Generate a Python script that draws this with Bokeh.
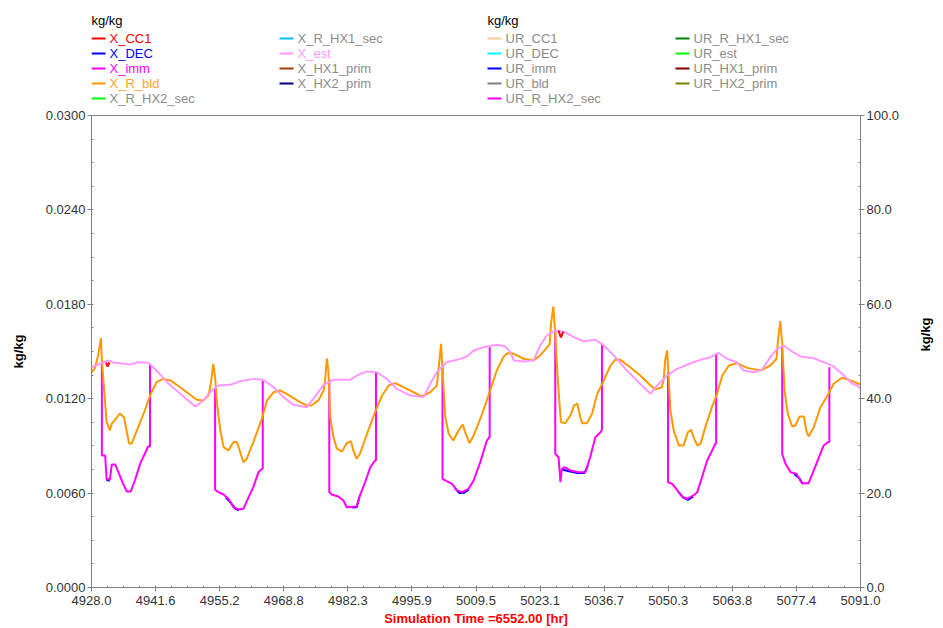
import math
import numpy as np
from bokeh.plotting import figure
from bokeh.models import Range1d, LinearAxis, FixedTicker
from bokeh.layouts import column
from bokeh.embed import file_html
from bokeh.resources import INLINE
from bokeh.core.properties import value

FONT = "Liberation Sans"
GRAY = "#808080"
LBL_GRAY = "#8c8c8c"

# ---------------- legend content ----------------
x_names = ["X_CC1", "X_DEC", "X_imm", "X_R_bld", "X_R_HX2_sec",
           "X_R_HX1_sec", "X_est", "X_HX1_prim", "X_HX2_prim"]
x_colors = ["#FF0000", "#0000FF", "#FF00FF", "#FF9900", "#00FF00",
            "#00BFFF", "#FF99FF", "#A0400A", "#000080"]
x_label_colors = ["#FF0000", "#0000FF", "#FF00FF", "#FFA526", LBL_GRAY,
                  LBL_GRAY, "#FF99FF", LBL_GRAY, LBL_GRAY]
ur_names = ["UR_CC1", "UR_DEC", "UR_imm", "UR_bld", "UR_R_HX2_sec",
            "UR_R_HX1_sec", "UR_est", "UR_HX1_prim", "UR_HX2_prim"]
ur_colors = ["#FFC8A0", "#00FFFF", "#0000FF", "#808080", "#FF00FF",
             "#008000", "#00FF00", "#800000", "#808000"]
ur_label_colors = [LBL_GRAY] * 9
unit_label = "kg/kg"
x_title = "Simulation Time =6552.00 [hr]"

# ---------------- axes ----------------
x_start, x_end = 4928.0, 5091.0
x_tick_labels = ["4928.0", "4941.6", "4955.2", "4968.8", "4982.3", "4995.9", "5009.5",
                 "5023.1", "5036.7", "5050.3", "5063.8", "5077.4", "5091.0"]
y_ticks = [0.0, 0.006, 0.012, 0.018, 0.024, 0.03]
y_tick_labels = ["0.0000", "0.0060", "0.0120", "0.0180", "0.0240", "0.0300"]
ur_ticks = [0, 20, 40, 60, 80, 100]
ur_tick_labels = ["0.0", "20.0", "40.0", "60.0", "80.0", "100.0"]

# ---------------- series ----------------
X_R_bld_t = [4928.0, 4928.7, 4929.4, 4930.0, 4930.2, 4930.7, 4931.2, 4931.9, 4932.3, 4933.2,
             4934.0, 4934.9, 4935.5, 4936.0, 4936.5, 4937.9, 4939.3, 4940.4, 4941.8, 4943.2,
             4944.7, 4946.8, 4950.3, 4951.7, 4952.8, 4953.3, 4953.8, 4954.2, 4954.6, 4955.3,
             4956.0, 4957.0, 4958.1, 4958.8, 4959.3, 4960.2, 4960.9, 4962.3, 4964.1, 4965.2,
             4966.6, 4968.0, 4969.4, 4972.2, 4973.6, 4974.6, 4976.1, 4977.2, 4977.5, 4977.9,
             4978.2, 4978.6, 4979.3, 4980.0, 4981.1, 4982.1, 4983.0, 4983.5, 4984.2, 4984.9,
             4986.4, 4988.1, 4989.6, 4991.0, 4992.4, 4994.1, 4996.3, 4998.0, 4999.8, 5001.2,
             5001.6, 5002.1, 5002.4, 5003.0, 5003.7, 5004.7, 5005.8, 5006.7, 5007.2, 5008.1,
             5009.0, 5010.8, 5012.5, 5013.9, 5015.3, 5016.1, 5017.5, 5019.6, 5021.7, 5023.1,
             5025.1, 5025.4, 5025.9, 5026.3, 5026.8, 5027.2, 5027.5, 5028.4, 5029.5, 5030.3,
             5031.0, 5031.6, 5032.0, 5033.0, 5034.1, 5035.2, 5036.6, 5038.0, 5039.0, 5040.1,
             5042.2, 5044.3, 5046.5, 5047.5, 5048.9, 5049.3, 5049.6, 5050.0, 5050.3, 5050.7,
             5051.4, 5052.5, 5053.5, 5054.4, 5055.1, 5055.6, 5056.4, 5057.1, 5058.1, 5059.5,
             5060.6, 5061.7, 5063.1, 5064.8, 5067.0, 5069.8, 5071.9, 5073.2, 5073.5, 5074.0,
             5074.4, 5074.9, 5075.6, 5076.5, 5077.2, 5078.1, 5079.0, 5079.5, 5080.0, 5081.1,
             5082.5, 5083.9, 5085.3, 5087.1, 5088.9, 5091.0]
X_R_bld_v = [0.01368, 0.01392, 0.01475, 0.01585, 0.01443, 0.01252, 0.01051, 0.00998, 0.01042, 0.01074,
             0.01106, 0.01082, 0.00985, 0.00913, 0.00915, 0.01019, 0.01125, 0.01220, 0.01305, 0.01326,
             0.01316, 0.01273, 0.01193, 0.01189, 0.01220, 0.01297, 0.01422, 0.01337, 0.01170, 0.00998,
             0.00892, 0.00871, 0.00924, 0.00924, 0.00882, 0.00796, 0.00818, 0.00924, 0.01072, 0.01189,
             0.01241, 0.01252, 0.01231, 0.01178, 0.01157, 0.01157, 0.01189, 0.01252, 0.01316, 0.01457,
             0.01379, 0.01082, 0.00955, 0.00882, 0.00864, 0.00917, 0.00930, 0.00871, 0.00818, 0.00850,
             0.00977, 0.01114, 0.01220, 0.01284, 0.01299, 0.01273, 0.01241, 0.01214, 0.01241, 0.01284,
             0.01400, 0.01549, 0.01379, 0.01082, 0.00977, 0.00934, 0.00998, 0.01036, 0.00987, 0.00917,
             0.00966, 0.01104, 0.01252, 0.01379, 0.01464, 0.01489, 0.01485, 0.01454, 0.01443, 0.01475,
             0.01545, 0.01676, 0.01786, 0.01614, 0.01337, 0.01168, 0.01051, 0.01044, 0.01093, 0.01157,
             0.01168, 0.01082, 0.01044, 0.01044, 0.01104, 0.01231, 0.01316, 0.01411, 0.01449, 0.01447,
             0.01400, 0.01347, 0.01284, 0.01258, 0.01273, 0.01326, 0.01443, 0.01506, 0.01360, 0.01125,
             0.00998, 0.00903, 0.00903, 0.00987, 0.01002, 0.00955, 0.00903, 0.00913, 0.01019, 0.01146,
             0.01231, 0.01347, 0.01411, 0.01426, 0.01396, 0.01379, 0.01411, 0.01454, 0.01570, 0.01693,
             0.01551, 0.01252, 0.01104, 0.01023, 0.01030, 0.01087, 0.01087, 0.00998, 0.00960, 0.01019,
             0.01146, 0.01214, 0.01295, 0.01333, 0.01316, 0.01290]

X_est_t = [4928.0, 4929.8, 4931.6, 4932.6, 4936.2, 4937.9, 4940.0, 4941.8, 4944.0, 4946.8,
           4950.0, 4951.7, 4953.5, 4954.9, 4957.4, 4959.5, 4962.3, 4964.4, 4966.6, 4968.7,
           4970.8, 4973.6, 4975.0, 4977.2, 4979.3, 4982.8, 4984.9, 4986.4, 4988.5, 4990.6,
           4992.7, 4995.6, 4998.4, 4999.8, 5001.2, 5003.3, 5005.5, 5007.6, 5009.0, 5011.1,
           5013.9, 5015.7, 5016.8, 5017.5, 5019.6, 5021.7, 5023.1, 5024.5, 5026.3, 5028.4,
           5030.2, 5032.3, 5034.8, 5036.2, 5038.7, 5041.5, 5044.3, 5046.5, 5047.9, 5050.0,
           5052.1, 5054.9, 5057.1, 5059.2, 5060.9, 5062.7, 5064.8, 5066.2, 5068.4, 5070.1,
           5071.9, 5073.3, 5074.7, 5076.2, 5078.3, 5081.1, 5083.2, 5085.3, 5087.1, 5088.2,
           5089.2, 5090.3, 5091.0]
X_est_v = [0.01400, 0.01422, 0.01443, 0.01430, 0.01417, 0.01432, 0.01428, 0.01379, 0.01305, 0.01231,
           0.01150, 0.01189, 0.01252, 0.01284, 0.01288, 0.01311, 0.01326, 0.01320, 0.01273, 0.01210,
           0.01161, 0.01146, 0.01199, 0.01288, 0.01320, 0.01320, 0.01358, 0.01373, 0.01368, 0.01326,
           0.01263, 0.01220, 0.01210, 0.01295, 0.01368, 0.01432, 0.01447, 0.01468, 0.01506, 0.01527,
           0.01543, 0.01532, 0.01496, 0.01443, 0.01436, 0.01443, 0.01538, 0.01602, 0.01633, 0.01623,
           0.01591, 0.01565, 0.01574, 0.01549, 0.01475, 0.01379, 0.01295, 0.01231, 0.01284, 0.01347,
           0.01390, 0.01424, 0.01447, 0.01464, 0.01492, 0.01454, 0.01432, 0.01379, 0.01368, 0.01384,
           0.01464, 0.01517, 0.01538, 0.01506, 0.01468, 0.01457, 0.01432, 0.01405, 0.01358, 0.01326,
           0.01295, 0.01284, 0.01263]

# X_imm equals X_est outside the occupied periods (hidden beneath it); the dips:
X_imm_t = [
    [4930.2, 4930.2, 4930.9, 4931.2, 4931.9, 4932.3, 4933.0, 4933.7, 4934.7, 4935.5, 4936.3, 4937.2, 4938.3, 4939.3, 4940.0, 4940.4, 4940.4],
    [4954.2, 4954.2, 4954.9, 4956.0, 4957.0, 4958.1, 4959.1, 4960.2, 4961.3, 4962.3, 4963.4, 4964.1, 4964.3, 4964.3],
    [4978.4, 4978.4, 4978.9, 4980.3, 4981.4, 4982.1, 4984.2, 4984.9, 4986.0, 4987.1, 4988.1, 4988.3, 4988.3],
    [5002.4, 5002.4, 5003.3, 5004.4, 5005.5, 5006.5, 5007.9, 5009.0, 5010.4, 5011.8, 5012.3, 5012.4, 5012.4],
    [5026.3, 5026.3, 5027.0, 5027.4, 5027.7, 5028.3, 5029.5, 5031.3, 5032.7, 5033.7, 5034.8, 5035.9, 5036.2, 5036.2],
    [5050.2, 5050.2, 5051.1, 5052.1, 5053.2, 5054.2, 5054.9, 5055.6, 5056.4, 5057.4, 5058.5, 5059.9, 5060.2, 5060.4, 5060.4],
    [5074.4, 5074.4, 5075.1, 5076.2, 5077.4, 5078.6, 5080.0, 5081.1, 5082.2, 5083.2, 5084.1, 5084.4, 5084.4],
]
X_imm_v = [
    [0.01422, 0.00839, 0.00839, 0.00691, 0.00685, 0.00782, 0.00782, 0.00733, 0.00659, 0.00610, 0.00610, 0.00680, 0.00786, 0.00850, 0.00896, 0.00896, 0.01422],
    [0.01271, 0.00621, 0.00606, 0.00591, 0.00564, 0.00510, 0.00496, 0.00500, 0.00574, 0.00638, 0.00733, 0.00754, 0.00754, 0.01316],
    [0.01322, 0.00606, 0.00591, 0.00578, 0.00553, 0.00510, 0.00515, 0.00585, 0.00669, 0.00765, 0.00807, 0.00807, 0.01368],
    [0.01417, 0.00691, 0.00676, 0.00659, 0.00617, 0.00606, 0.00627, 0.00680, 0.00796, 0.00934, 0.00955, 0.00955, 0.01527],
    [0.01633, 0.00850, 0.00828, 0.00669, 0.00754, 0.00765, 0.00744, 0.00733, 0.00733, 0.00828, 0.00955, 0.00987, 0.01004, 0.01549],
    [0.01367, 0.00669, 0.00659, 0.00621, 0.00578, 0.00564, 0.00574, 0.00585, 0.00606, 0.00701, 0.00807, 0.00892, 0.00913, 0.00913, 0.01489],
    [0.01532, 0.00850, 0.00786, 0.00733, 0.00723, 0.00663, 0.00663, 0.00744, 0.00828, 0.00903, 0.00924, 0.00924, 0.01400],
]

X_DEC_t = [
    [4931.1, 4931.5, 4931.9],
    [4956.5, 4957.5, 4958.5, 4959.3],
    [4983.3, 4984.2, 4984.8],
    [5005.0, 5006.0, 5007.0, 5008.0],
    [5027.8, 5029.0, 5031.0, 5032.5, 5033.2],
    [5052.5, 5053.5, 5054.5, 5055.5],
    [5077.0, 5078.0, 5078.8],
]
X_DEC_v = [
    [0.00688, 0.00680, 0.00680],
    [0.00572, 0.00540, 0.00500, 0.00490],
    [0.00508, 0.00510, 0.00575],
    [0.00632, 0.00600, 0.00602, 0.00622],
    [0.00750, 0.00740, 0.00728, 0.00728, 0.00775],
    [0.00605, 0.00570, 0.00558, 0.00578],
    [0.00720, 0.00695, 0.00658],
]

X_CC1_t = [[4931.1, 4931.4, 4931.8], [5027.0, 5027.5, 5028.0]]
X_CC1_v = [[0.01430, 0.01405, 0.01430], [0.01633, 0.01589, 0.01627]]

# ---------------- geometry ----------------
W = 943
LEG_H = 108
MAIN_H = 628 - LEG_H
BL, BR = 91, 83          # left / right borders -> frame 91..860

# ---------------- legend figure (page pixels) ----------------
leg = figure(width=W, height=LEG_H, x_range=Range1d(BL, W - BR), y_range=Range1d(LEG_H, 0),
             output_backend="svg", toolbar_location=None, x_axis_type=None, y_axis_type=None,
             min_border_left=BL, min_border_right=BR, min_border_top=0, min_border_bottom=0,
             outline_line_color=None, background_fill_color="white",
             border_fill_color="white")

groups = [(91, x_names, x_colors, x_label_colors), (487, ur_names, ur_colors, ur_label_colors)]
sx0, sx1, sy0, sy1, tx, ty, tt, tc, lc = [], [], [], [], [], [], [], [], []
for gx, names, cols, lcols in groups:
    for i, (n, c, l) in enumerate(zip(names, cols, lcols)):
        col, row = divmod(i, 5)
        xx = gx + col * 188
        yy = 38 + row * 15
        sx0.append(xx); sx1.append(xx + 14); sy0.append(yy); sy1.append(yy)
        lc.append(c)
        tx.append(xx + 18); ty.append(yy); tt.append(n); tc.append(l)
leg.segment(x0=sx0, y0=sy0, x1=sx1, y1=sy1, line_color=lc, line_width=2)
leg.text(x=tx, y=ty, text=tt, text_color=tc, text_font=value(FONT), text_font_size="13px",
         text_baseline="middle", text_align="left")
leg.text(x=[91, 487], y=[20, 20], text=[unit_label, unit_label], text_color="black",
         text_font=value(FONT), text_font_size="13px", text_baseline="middle", text_align="left")

# ---------------- main figure ----------------
p = figure(width=W, height=MAIN_H, x_range=Range1d(x_start, x_end), y_range=Range1d(0, 0.03),
           output_backend="svg", toolbar_location=None,
           min_border_left=BL, min_border_right=BR, min_border_top=7, min_border_bottom=41,
           outline_line_color=GRAY, background_fill_color="white", border_fill_color="white")
p.extra_y_ranges = {"ur": Range1d(0, 100)}
p.xgrid.visible = False
p.ygrid.visible = False

x_ticks = list(np.linspace(x_start, x_end, len(x_tick_labels)))
x_minor = list(np.linspace(x_start, x_end, 4 * (len(x_tick_labels) - 1) + 1))
y_minor = list(np.linspace(0, 0.03, 21))
ur_minor = list(range(0, 101, 5))


def style_axis(ax):
    ax.axis_line_color = GRAY
    ax.major_tick_line_color = GRAY
    ax.minor_tick_line_color = GRAY
    ax.major_tick_out = 4
    ax.major_tick_in = 0
    ax.minor_tick_in = 2
    ax.minor_tick_out = 0
    ax.major_label_standoff = 2
    ax.major_label_text_font = FONT
    ax.major_label_text_font_size = "13px"
    ax.major_label_text_color = "#333333"
    ax.axis_label_text_font = FONT
    ax.axis_label_text_font_size = "13px"
    ax.axis_label_text_font_style = "bold"
    ax.axis_label_text_color = "black"


xa = p.xaxis[0]
xa.ticker = FixedTicker(ticks=x_ticks, minor_ticks=x_minor)
xa.major_label_overrides = {float(t): l for t, l in zip(x_ticks, x_tick_labels)}
style_axis(xa)
xa.major_label_standoff = 4
xa.axis_label = x_title
xa.axis_label_text_color = "#FF0000"
xa.axis_label_standoff = 3

ya = p.yaxis[0]
ya.ticker = FixedTicker(ticks=y_ticks, minor_ticks=y_minor)
ya.major_label_overrides = {t: l for t, l in zip(y_ticks, y_tick_labels)}
style_axis(ya)
ya.axis_label = unit_label
ya.axis_label_standoff = 17

ra = LinearAxis(y_range_name="ur", ticker=FixedTicker(ticks=ur_ticks, minor_ticks=ur_minor))
ra.major_label_overrides = {t: l for t, l in zip(ur_ticks, ur_tick_labels)}
style_axis(ra)
ra.axis_label = unit_label
ra.axis_label_standoff = 23
try:
    ra.axis_label_orientation = math.pi / 2
except Exception:
    pass
p.add_layout(ra, "right")

# series (drawing order as in the legend)
p.multi_line(xs=X_DEC_t, ys=X_DEC_v, line_color="#0000FF", line_width=2)
p.multi_line(xs=X_imm_t, ys=X_imm_v, line_color="#FF00FF", line_width=2)
p.line(X_R_bld_t, X_R_bld_v, line_color="#FF9900", line_width=2)
p.line(X_est_t, X_est_v, line_color="#FF99FF", line_width=2)
p.multi_line(xs=X_CC1_t, ys=X_CC1_v, line_color="#FF0000", line_width=2)

layout = column(leg, p, spacing=0)
open("out.html", "w").write(file_html(layout, INLINE))
